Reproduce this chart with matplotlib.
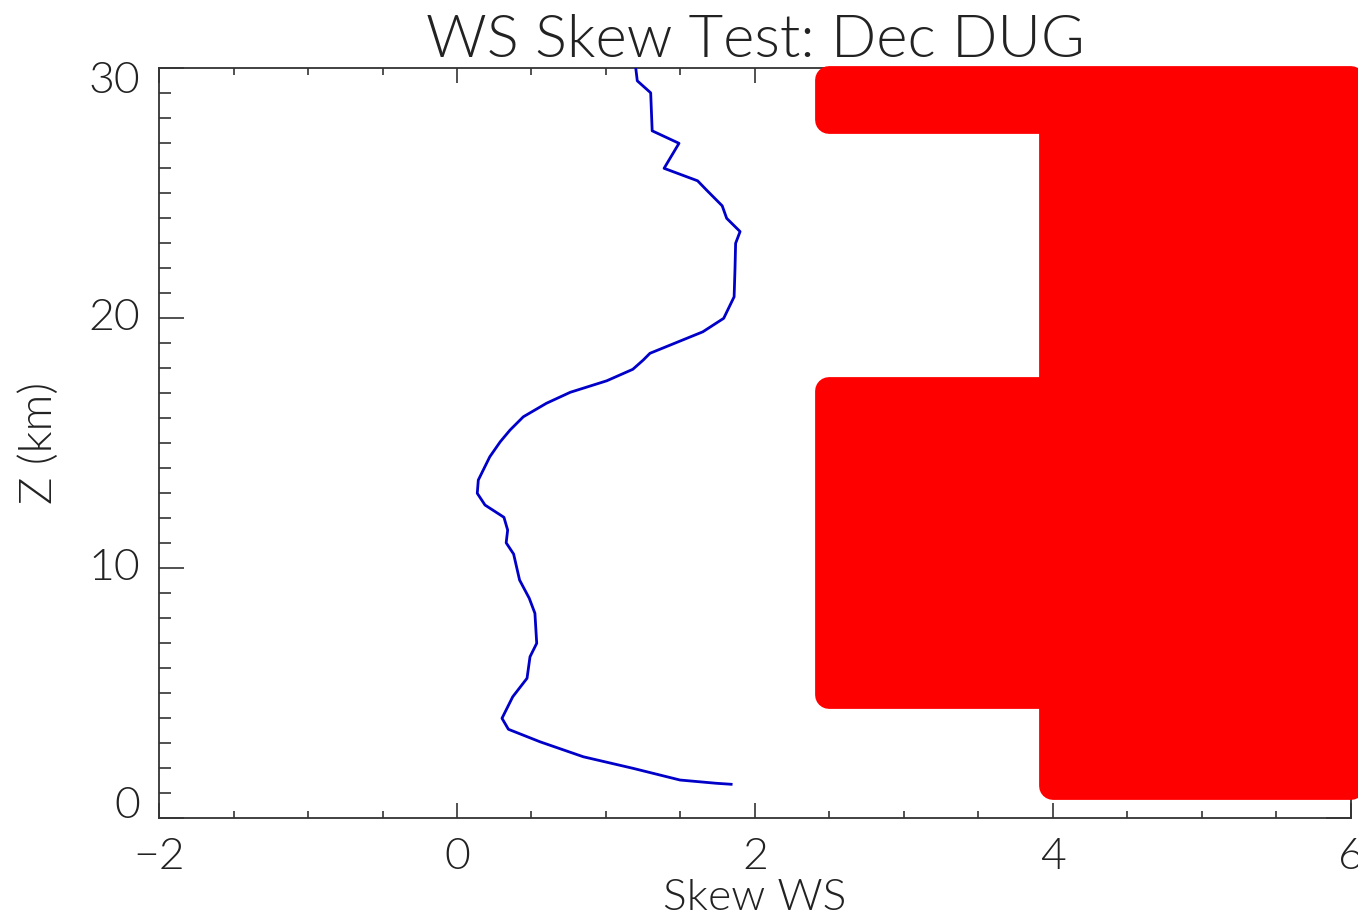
import matplotlib.pyplot as plt
from matplotlib.ticker import MultipleLocator
from matplotlib.transforms import offset_copy

# skew profile (blue line)
z_km = [30.0, 29.5, 29.02, 27.5, 27.0, 26.0, 25.5, 25.13, 24.5, 24.0, 23.47,
        23.0, 22.0, 20.86, 20.0, 19.46, 18.6, 18.33, 17.96, 17.5, 17.04, 16.6,
        16.06, 15.53, 15.06, 14.46, 13.53, 13.0, 12.53, 12.04, 11.53, 11.02,
        10.57, 9.53, 8.8, 8.2, 7.0, 6.46, 5.6, 4.86, 4.0, 3.56, 3.06, 2.46,
        2.0, 1.53, 1.4, 1.36]
skew_ws = [1.20, 1.21, 1.30, 1.31, 1.49, 1.39, 1.615, 1.675, 1.78, 1.81, 1.90,
           1.87, 1.866, 1.86, 1.79, 1.65, 1.295, 1.25, 1.18, 1.005, 0.76, 0.60,
           0.445, 0.356, 0.29, 0.22, 0.143, 0.136, 0.188, 0.315, 0.34, 0.33,
           0.38, 0.42, 0.485, 0.523, 0.535, 0.49, 0.47, 0.374, 0.302, 0.345,
           0.557, 0.848, 1.18, 1.497, 1.74, 1.84]

# flagged region (red): bands of z with left edge in skew
band_z_bottom = [1.3, 4.95, 17.1, 27.95]
band_z_top = [4.95, 17.1, 27.95, 29.55]
band_x_left = [4.0, 2.5, 4.0, 2.5]
band_x_right = 6.0

xticks = [-2, 0, 2, 4, 6]
yticks = [0, 10, 20, 30]

txt = '#222222'
plt.rcParams['font.family'] = ['Lato', 'DejaVu Sans']
plt.rcParams['font.weight'] = 300
plt.rcParams['axes.titleweight'] = 300
plt.rcParams['axes.labelweight'] = 300

fig = plt.figure(figsize=(13.58, 9.22), dpi=100)
ax = fig.add_axes([0.1171, 0.1125, 0.8777, 0.8134])

ax.plot(skew_ws, z_km, color='#0000c8', lw=2.0, zorder=3)

# staircase outline of the flagged bands
verts = [(band_x_right, band_z_bottom[0])]
for zb, zt, xl in zip(band_z_bottom, band_z_top, band_x_left):
    verts.append((xl, zb))
    verts.append((xl, zt))
verts.append((band_x_right, band_z_top[-1]))
xs, ys = zip(*verts)
ax.fill(xs, ys, facecolor='#ff0000', edgecolor='#ff0000', lw=20,
        joinstyle='round', clip_on=False, zorder=5)

ax.set_xlim(-2, 6)
ax.set_ylim(0, 30)
ax.set_xticks(xticks)
ax.set_xticklabels(['\u22122', '0', '2', '4', '6'])
ax.xaxis.set_minor_locator(MultipleLocator(0.5))
ax.set_yticks(yticks)
ax.yaxis.set_minor_locator(MultipleLocator(1))
ax.set_yticklabels([])
ax.tick_params(which='both', direction='in', top=True, right=True,
               colors='#333333', width=1.2)
ax.tick_params(axis='x', which='major', length=10.8, labelsize=32,
               labelcolor=txt, pad=14)
ax.tick_params(axis='x', which='minor', length=5)
ax.tick_params(axis='y', which='major', length=18)
ax.tick_params(axis='y', which='minor', length=8.6)
for s in ax.spines.values():
    s.set_color('#333333')
    s.set_linewidth(1.3)

# y tick labels, IDL style: end labels pulled inside the axis range
ytrans = ax.get_yaxis_transform()
for v in yticks:
    va, tr = 'center', ytrans
    if v == yticks[0]:
        va = 'baseline'
    elif v == yticks[-1]:
        va = 'top'
        tr = offset_copy(ytrans, fig=fig, x=0, y=6, units='dots')
    ax.text(-0.016, v, str(v), transform=tr,
            ha='right', va=va, fontsize=32, color=txt)

ax.set_xlabel('Skew WS', fontsize=32, color=txt, labelpad=2)
ax.set_ylabel('Z (km)', fontsize=33, color=txt)
ax.yaxis.set_label_coords(-0.083, 0.5)
ax.set_title('WS Skew Test: Dec DUG', fontsize=43, color=txt, pad=8)

fig.savefig('out.png', dpi=100)
